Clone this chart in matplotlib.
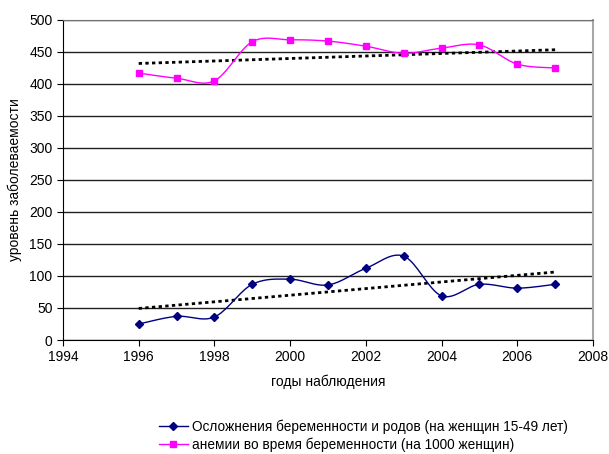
import numpy as np
import matplotlib
matplotlib.use("Agg")
import matplotlib.pyplot as plt

plt.rcParams['font.family'] = ['Liberation Sans', 'DejaVu Sans']

years = [1996, 1997, 1998, 1999, 2000, 2001, 2002, 2003, 2004, 2005, 2006, 2007]
complications = [25, 37, 36, 87, 95, 86, 112, 131, 69, 87, 81, 87]
anemia = [417, 409, 405, 466, 469, 467, 459, 448, 456, 461, 431, 425]

label_compl = 'Осложнения беременности и родов (на женщин 15-49 лет)'
label_anemia = 'анемии во время беременности (на 1000 женщин)'


def smooth(x, y, n=20):
    # excel-style smoothed line (bezier, control points at 1/6)
    x = np.asarray(x, float)
    y = np.asarray(y, float)
    px = np.concatenate([[x[0]], x, [x[-1]]])
    py = np.concatenate([[y[0]], y, [y[-1]]])
    xs, ys = [], []
    t = np.linspace(0, 1, n)
    for i in range(1, len(px) - 2):
        p0 = np.array([px[i], py[i]])
        p3 = np.array([px[i + 1], py[i + 1]])
        p1 = p0 + (np.array([px[i + 1], py[i + 1]]) - np.array([px[i - 1], py[i - 1]])) / 6
        p2 = p3 - (np.array([px[i + 2], py[i + 2]]) - np.array([px[i], py[i]])) / 6
        b = ((1 - t) ** 3)[:, None] * p0 + (3 * (1 - t) ** 2 * t)[:, None] * p1 \
            + (3 * (1 - t) * t ** 2)[:, None] * p2 + (t ** 3)[:, None] * p3
        xs.extend(b[:, 0])
        ys.extend(b[:, 1])
    return xs, ys


fig = plt.figure(figsize=(6.09, 4.54), dpi=100)
ax = fig.add_axes([0.1034, 0.2511, 0.8703, 0.7049])

blue = '#000080'
pink = '#FF00FF'

sx, sy = smooth(years, complications)
ax.plot(sx, sy, color=blue, lw=1, zorder=3)
ax.plot(years, complications, ls='none', marker='D', ms=4.5, color=blue, zorder=4)

sx, sy = smooth(years, anemia)
ax.plot(sx, sy, color=pink, lw=1, zorder=3)
ax.plot(years, anemia, ls='none', marker='s', ms=5, color=pink, zorder=4)

# linear trends
for vals in (complications, anemia):
    k, b = np.polyfit(years, vals, 1)
    xt = np.array([years[0], years[-1]])
    ax.plot(xt, k * xt + b, color='black', lw=2, ls=(0, (1.2, 1.2)), zorder=2)

ax.set_xlim(1994, 2008)
ax.set_ylim(0, 500)
ax.set_xticks(range(1994, 2009, 2))
ax.set_yticks(range(0, 501, 50))
ax.grid(axis='y', color='#202020', lw=1)
ax.set_axisbelow(True)

ax.spines['top'].set_color('#707070')
ax.spines['right'].set_color('#A8A8A8')
ax.spines['right'].set_linewidth(1.5)
ax.spines['left'].set_color('black')
ax.spines['bottom'].set_color('black')
ax.tick_params(direction='out', length=4, labelsize=10, color='black')

ax.set_xlabel('годы наблюдения', fontsize=10, labelpad=7)
ax.set_ylabel('уровень заболеваемости', fontsize=10, labelpad=5)

h1 = plt.Line2D([], [], color=blue, lw=1, marker='D', ms=4.5)
h2 = plt.Line2D([], [], color=pink, lw=1, marker='s', ms=5)
fig.legend([h1, h2], [label_compl, label_anemia], loc='lower left',
           bbox_to_anchor=(0.261, 0.004), frameon=False, fontsize=9.8,
           handlelength=2.1, handletextpad=0.3, labelspacing=0.3,
           borderaxespad=0, borderpad=0)

fig.savefig('out.png', dpi=100)
